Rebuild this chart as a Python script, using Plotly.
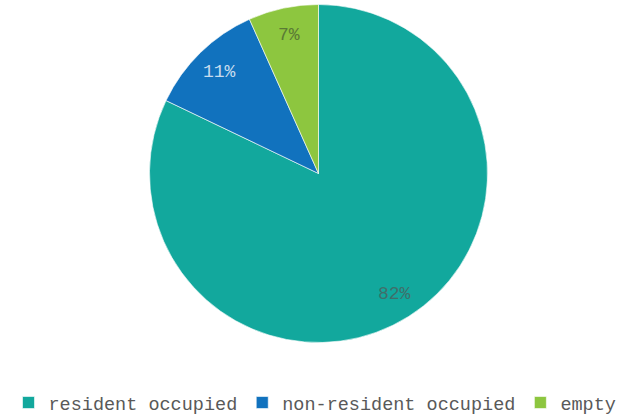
import math
import plotly.graph_objects as go

categories = ["resident occupied", "non-resident occupied", "empty"]
values = [82.1, 11.2, 6.7]
colors = ["#12a89d", "#1172be", "#8dc63f"]
label_colors = ["#3f6f6a", "#c7dcee", "#5a7a35"]

W, H = 630, 417
cx, cy, r = 318.5, 173.5, 169
FONT = "Courier New, Liberation Mono, monospace"

fig = go.Figure(go.Pie(
    labels=categories,
    values=values,
    sort=False,
    direction="clockwise",
    rotation=0,
    marker=dict(colors=colors, line=dict(color="rgba(255,255,255,0.6)", width=1)),
    textinfo="none",
    hoverinfo="label+percent",
    domain=dict(x=[(cx - r) / W, (cx + r) / W], y=[1 - (cy + r) / H, 1 - (cy - r) / H]),
))

# percentage labels placed along each slice's mid-angle
total = sum(values)
cum = 0.0
for v, col in zip(values, label_colors):
    theta = 2 * math.pi * (cum + v / 2) / total
    cum += v
    lx = cx + 0.84 * r * math.sin(theta)
    ly = cy - 0.84 * r * math.cos(theta)
    fig.add_annotation(
        x=lx / W, y=1 - ly / H, xref="paper", yref="paper",
        text=f"{round(100 * v / total)}%", showarrow=False,
        xanchor="center", yanchor="middle",
        font=dict(family=FONT, size=18, color=col),
    )

fig.update_layout(
    width=W, height=H,
    margin=dict(l=0, r=0, t=0, b=0, autoexpand=False),
    paper_bgcolor="white",
    plot_bgcolor="white",
    font=dict(family=FONT, size=18.5, color="#595959"),
    showlegend=True,
    legend=dict(orientation="h", x=0.5, xanchor="center", y=-0.012, yanchor="bottom",
                itemwidth=30, font=dict(family=FONT, size=18.5, color="#595959")),
)

fig.write_html("out.html", config={"displayModeBar": False},
               post_script="document.body.style.margin='0';document.body.style.padding='0';")
